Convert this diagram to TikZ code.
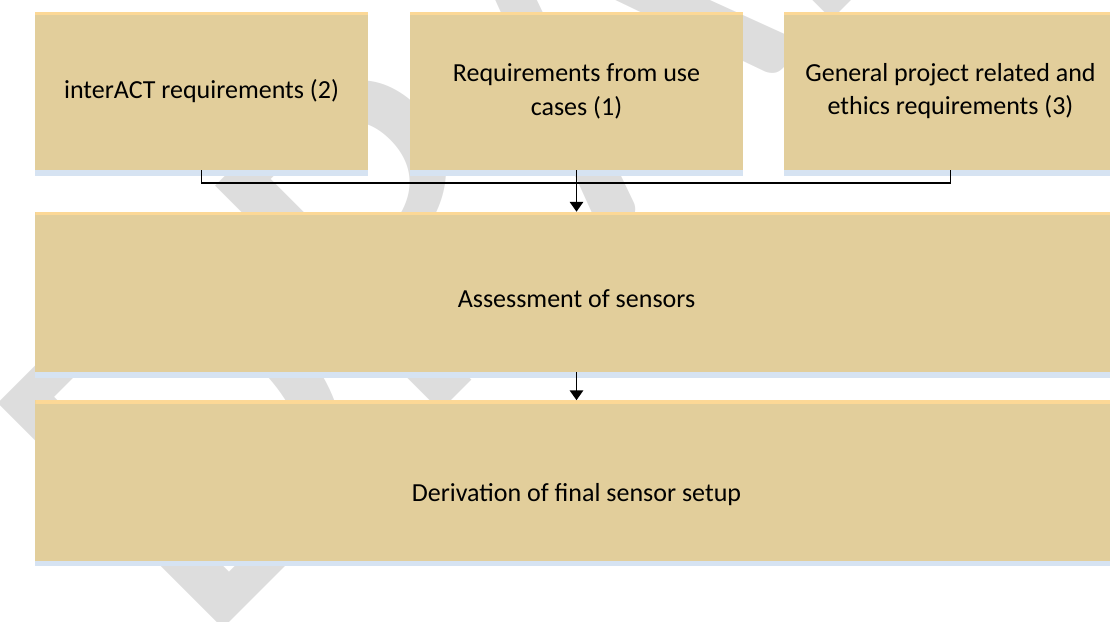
\documentclass[tikz,border=0pt]{standalone}
\usepackage{fontspec}
\setmainfont{Carlito}
\usetikzlibrary{arrows.meta,shadows}
\definecolor{boxfill}{RGB}{226,206,155}
\definecolor{boxtop}{RGB}{252,216,150}
\definecolor{boxshade}{RGB}{214,227,242}
\definecolor{wmgrey}{RGB}{221,221,221}

\begin{document}
\begin{tikzpicture}[x=0.025cm,y=0.025cm,
  box/.style={fill=boxfill, inner sep=0pt, align=center,
    font=\fontsize{18.5}{24}\selectfont,
    general shadow={fill=boxshade, shadow xshift=0pt, shadow yshift=-4pt},
    path picture={\fill[boxtop] (path picture bounding box.north west)
      rectangle ([yshift=-2.5pt]path picture bounding box.north east);}},
  smallbox/.style={box, minimum width=8.325cm, minimum height=3.95cm},
  widebox/.style={box, minimum width=27.05cm, minimum height=4cm, text depth=4.6pt},
  link/.style={line width=1.3pt},
  flow/.style={link, -{Triangle[length=7pt,width=9.5pt]}}]

\useasboundingbox (0,0) rectangle (1110,621);
\clip (0,0) rectangle (1110,621);

% watermark behind everything
\node[text=wmgrey, rotate=45, anchor=base west, inner sep=0pt,
  font=\fontsize{353}{360}\selectfont] (wm) at (199,-32) {DRAFT};

\node[smallbox] (req2) at (201.5,530) {interACT requirements (2)};
\node[smallbox] (req1) at (576.5,530) {Requirements from use\\cases (1)};
\node[smallbox] (req3) at (950.5,530) {General project related and\\ethics requirements (3)};
\node[widebox, text height=26pt] (assess) at (576.5,329) {Assessment of sensors};
\node[widebox, text height=35pt] (derive) at (576.5,140.5) {Derivation of final sensor setup};

\coordinate (bus) at (576.5,438);
\draw[link] (req2.south) |- (bus) -| (req3.south);
\draw[flow] (req1.south) -- (assess.north);
\draw[flow] (assess.south) -- (derive.north);
\end{tikzpicture}
\end{document}
